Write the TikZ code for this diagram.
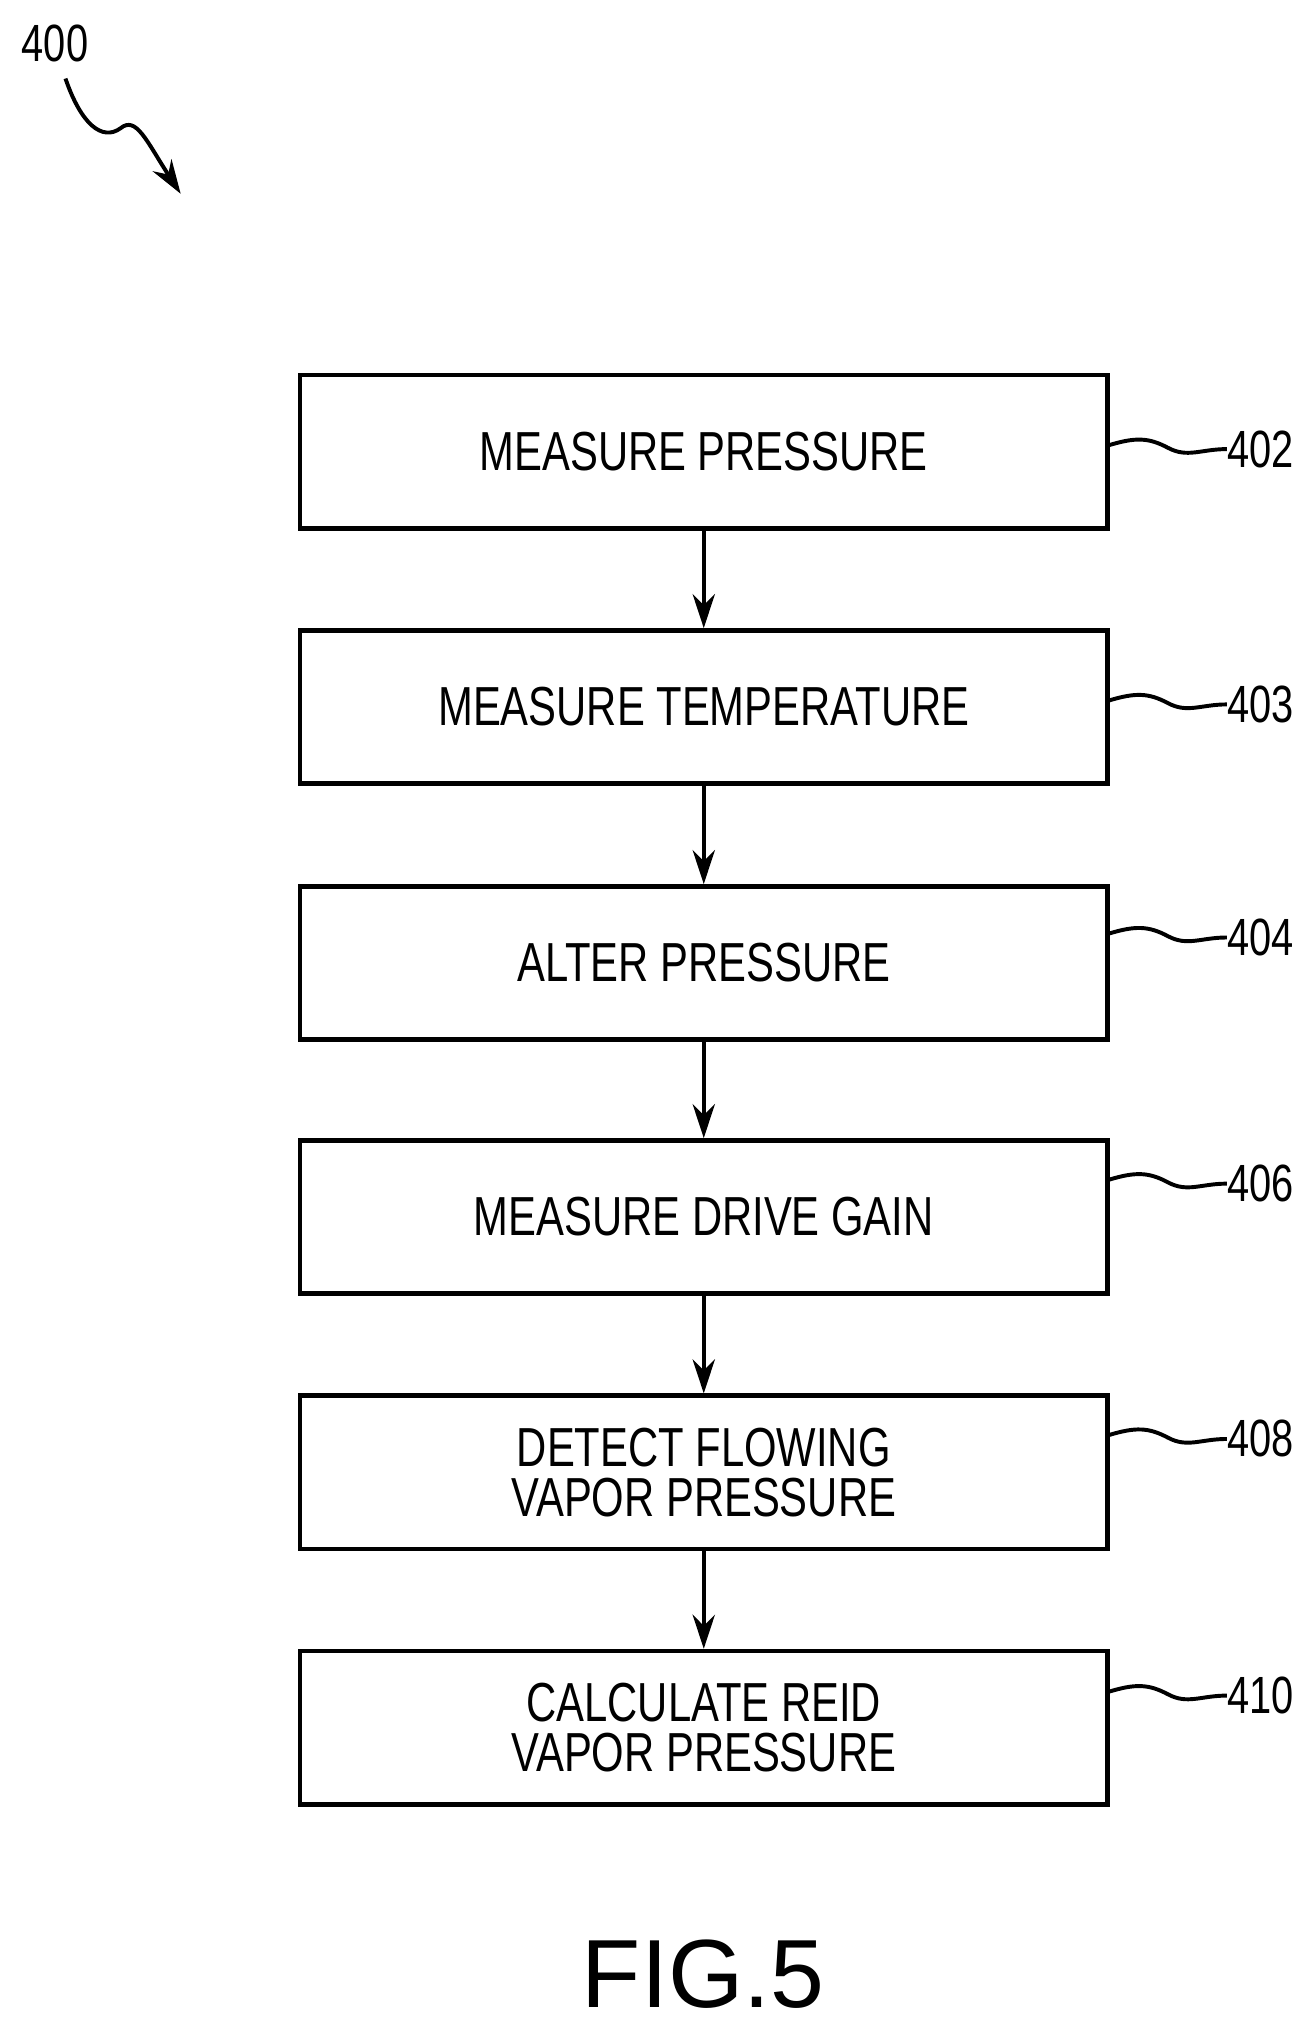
\documentclass[tikz,border=0pt]{standalone}
\usepackage{fontspec}
\setmainfont{Liberation Sans}
\newfontfamily\narrowf{Liberation Sans}[FakeStretch=0.76]
\usetikzlibrary{arrows.meta,calc}
\begin{document}
\begin{tikzpicture}[x=1pt,y=-1pt,
  box/.style={draw,line width=3.5pt,minimum width=617pt,minimum height=117pt,align=center,font=\narrowf\fontsize{42}{38}\selectfont,inner sep=0pt},
  lab/.style={font=\narrowf\fontsize{40}{40}\selectfont,anchor=west,inner sep=0pt},
  flow/.style={line width=3pt,-{Stealth[length=26pt,width=17pt]}},
  lead/.style={line width=3pt}]
\useasboundingbox (0,0) rectangle (1000,1555);
\node[box] (b1) at (537.5,345) {MEASURE PRESSURE};
\node[box] (b2) at (537.5,540) {MEASURE TEMPERATURE};
\node[box] (b3) at (537.5,735.5) {ALTER PRESSURE};
\node[box] (b4) at (537.5,929.5) {MEASURE DRIVE GAIN};
\node[box] (b5) at (537.5,1124.5) {DETECT FLOWING\\VAPOR PRESSURE};
\node[box] (b6) at (537.5,1319.5) {CALCULATE REID\\VAPOR PRESSURE};
\foreach \a/\b in {b1/b2,b2/b3,b3/b4,b4/b5,b5/b6}
  \draw[flow] (\a.south) -- (\b.north);
\foreach \b/\t/\y in {b1/402/343,b2/403/538,b3/404/716,b4/406/904,b5/408/1099,b6/410/1295}{
  \node[lab] (l\t) at (937,\y) {\t};
  \coordinate (s\t) at (847,\y-3);
  \draw[lead] (s\t) .. controls +(20,-6) and +(-15,-8) .. ($(s\t)+(45,2)$) .. controls +(15,8) and +(-20,0) .. (l\t.west);
}
\node[font=\narrowf\fontsize{40}{40}\selectfont] (n400) at (42,33) {400};
\coordinate (q) at (50,60);
\coordinate (e) at (138,148);
\draw[line width=3pt,-{Stealth[length=26pt,width=17pt]}] (q) .. controls (62,95) and (78,108) .. (92,98) .. controls (104,88) and (112,108) .. (e);
\node[font=\fontsize{74}{74}\selectfont] (fig) at (537,1508) {FIG.5};
\end{tikzpicture}
\end{document}
